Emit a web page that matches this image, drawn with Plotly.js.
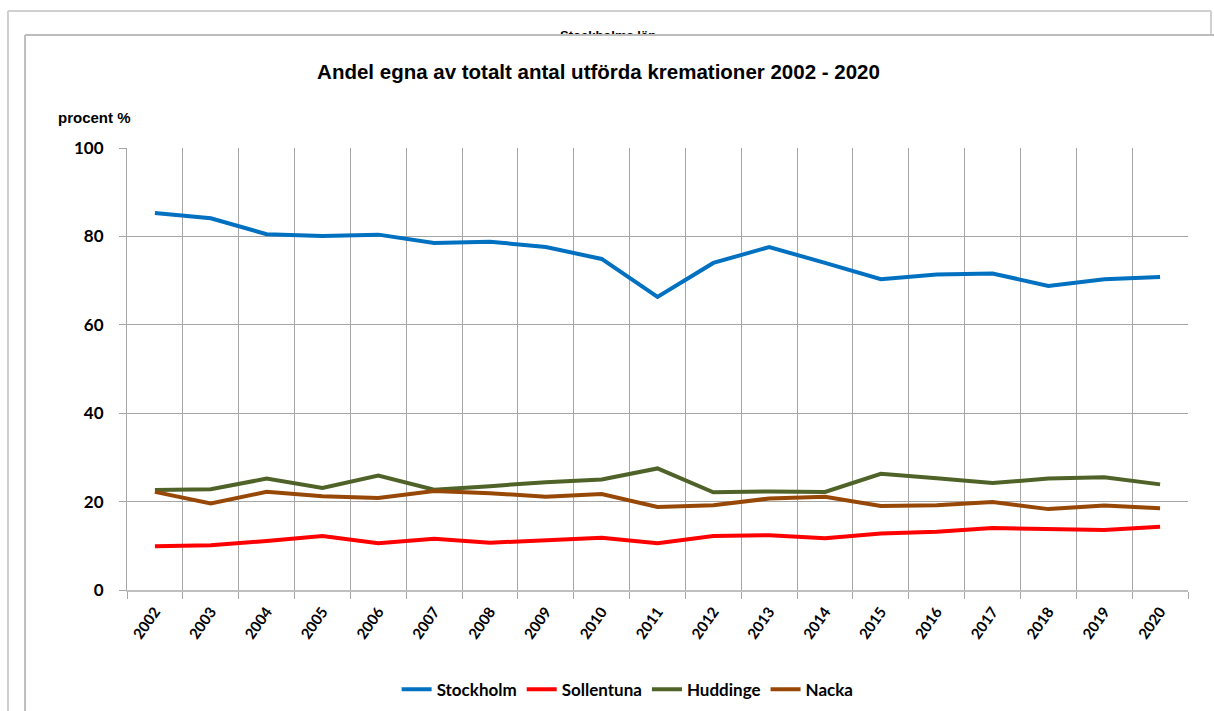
<!DOCTYPE html>
<html>
<head>
<meta charset="utf-8">
<script src="https://cdn.plot.ly/plotly-3.0.1.min.js"></script>
<style>
  html, body { margin: 0; padding: 0; background: #fff; }
  #chart { width: 1214px; height: 711px; position: relative; }
  #clip { position: absolute; left: 520px; top: 34px; width: 180px; height: 14px; background: #fff; border-top: 2px solid #BDBDBD; z-index: 10; }
</style>
</head>
<body>
<div id="chart"></div>
<div id="clip"></div>
<script>
const years = ["2002","2003","2004","2005","2006","2007","2008","2009","2010","2011","2012","2013","2014","2015","2016","2017","2018","2019","2020"];
const stockholm  = [85.3, 84.1, 80.5, 80.1, 80.4, 78.5, 78.8, 77.6, 74.9, 66.3, 74.0, 77.6, 74.0, 70.3, 71.4, 71.6, 68.8, 70.3, 70.8];
const sollentuna = [9.9, 10.1, 11.1, 12.2, 10.6, 11.6, 10.7, 11.2, 11.8, 10.6, 12.2, 12.4, 11.7, 12.8, 13.2, 14.0, 13.9, 13.6, 14.3];
const huddinge   = [22.6, 22.8, 25.2, 23.1, 25.9, 22.7, 23.5, 24.4, 25.0, 27.5, 22.1, 22.3, 22.2, 26.3, 25.3, 24.2, 25.2, 25.5, 23.9];
const nacka      = [22.2, 19.6, 22.2, 21.2, 20.8, 22.4, 21.9, 21.1, 21.7, 18.8, 19.2, 20.7, 21.1, 19.0, 19.2, 19.9, 18.3, 19.1, 18.5];
const seriesNames = ["Stockholm", "Sollentuna", "Huddinge", "Nacka"];
const seriesColors = ["#0070C0", "#FF0000", "#4F6228", "#974806"];
const seriesData = [stockholm, sollentuna, huddinge, nacka];
const yTicks = [0, 20, 40, 60, 80, 100];

const traces = seriesData.map((d, i) => ({
  type: "scatter",
  mode: "lines",
  x: years,
  y: d,
  name: seriesNames[i],
  line: { color: seriesColors[i], width: 4 },
  hoverinfo: "skip"
}));

const gray = "#A6A6A6";
const layout = {
  width: 1214,
  height: 711,
  margin: { l: 127, r: 26, t: 148, b: 121 },
  paper_bgcolor: "#fff",
  plot_bgcolor: "#fff",
  showlegend: true,
  title: {
    text: "Andel egna av totalt antal utförda kremationer 2002 - 2020",
    font: { family: "Liberation Sans, Arial, sans-serif", size: 20.5, color: "#000", weight: "bold" },
    xref: "container", yref: "container",
    x: 0.493, xanchor: "center",
    y: 0.899, yanchor: "middle"
  },
  xaxis: {
    type: "category",
    range: [-0.5, years.length - 0.5],
    tickson: "boundaries",
    showgrid: true,
    gridcolor: gray,
    gridwidth: 1,
    showline: true,
    linecolor: "#BFBFBF",
    linewidth: 2,
    ticks: "outside",
    ticklen: 7,
    tickcolor: gray,
    tickangle: -55,
    ticklabelstandoff: 5,
    tickfont: { family: "Lato, sans-serif", size: 15, color: "#000", weight: "bold" },
    mirror: false,
    zeroline: false,
    fixedrange: true
  },
  yaxis: {
    range: [0, 100],
    tickvals: yTicks,
    ticktext: yTicks.map(String),
    showgrid: true,
    gridcolor: gray,
    gridwidth: 1,
    showline: true,
    linecolor: gray,
    linewidth: 1,
    ticks: "outside",
    ticklen: 7,
    tickcolor: gray,
    ticklabelstandoff: 12,
    tickfont: { family: "Lato, sans-serif", size: 17, color: "#000", weight: "bold" },
    zeroline: false,
    fixedrange: true
  },
  legend: {
    orientation: "h",
    xref: "container", yref: "container",
    x: 0.517, xanchor: "center",
    y: 0.03, yanchor: "middle",
    font: { family: "Lato, sans-serif", size: 17, color: "#000", weight: "bold" },
    itemwidth: 30,
    tracegroupgap: 0,
    bgcolor: "rgba(0,0,0,0)"
  },
  annotations: [
    {
      text: "procent %",
      xref: "paper", yref: "paper",
      x: -0.067, xanchor: "left",
      y: 1.068, yanchor: "middle",
      showarrow: false,
      font: { family: "Liberation Sans, Arial, sans-serif", size: 15, color: "#000", weight: "bold" }
    },
    {
      text: "Stockholms län",
      xref: "paper", yref: "paper",
      x: 0.453, xanchor: "center",
      y: 1.255, yanchor: "middle",
      showarrow: false,
      font: { family: "Liberation Sans, Arial, sans-serif", size: 13, color: "#000", weight: "bold" }
    }
  ],
  shapes: [
    { type: "line", xref: "paper", yref: "paper", x0: -0.1122, x1: 1.0217, y0: 1.310, y1: 1.310, line: { color: "#D0D0D0", width: 2 } },
    { type: "line", xref: "paper", yref: "paper", x0: -0.1122, x1: -0.1122, y0: 1.310, y1: -0.28, line: { color: "#D0D0D0", width: 2 } },
    { type: "line", xref: "paper", yref: "paper", x0: 1.0217, x1: 1.0217, y0: 1.310, y1: 1.2557, line: { color: "#D0D0D0", width: 2 } },
    { type: "line", xref: "paper", yref: "paper", x0: -0.0961, x1: 1.03, y0: 1.2557, y1: 1.2557, line: { color: "#BDBDBD", width: 2 } },
    { type: "line", xref: "paper", yref: "paper", x0: -0.0961, x1: -0.0961, y0: 1.2557, y1: -0.28, line: { color: "#BDBDBD", width: 2 } }
  ]
};

Plotly.newPlot("chart", traces, layout, { displayModeBar: false, responsive: false });
</script>
</body>
</html>
